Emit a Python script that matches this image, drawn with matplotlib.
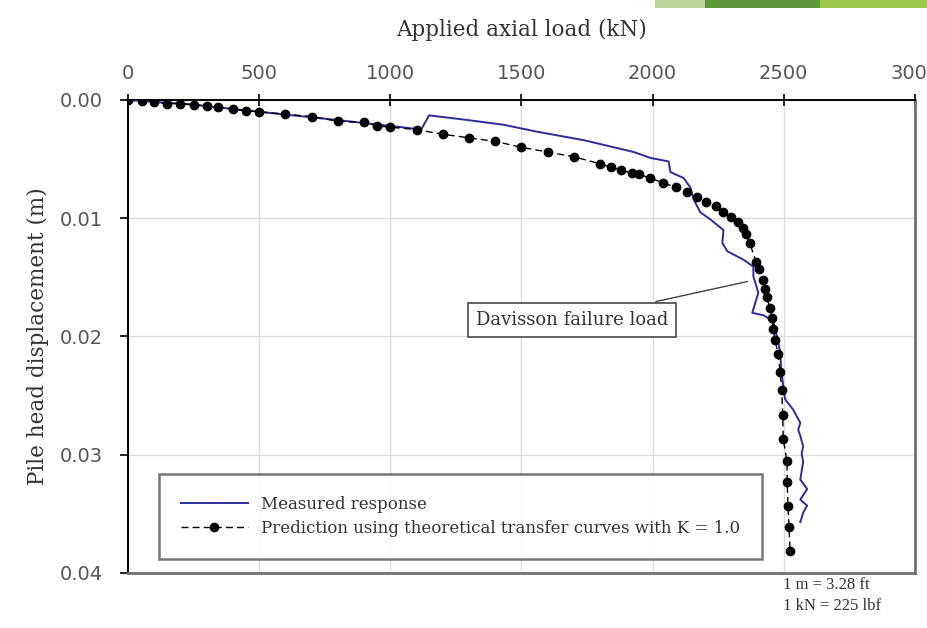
import matplotlib
matplotlib.use("Agg")
import matplotlib.pyplot as plt
from matplotlib.patches import Rectangle

# predicted curve (theoretical transfer curves, K = 1.0)
pred_load = [0, 55, 100, 150, 200, 250, 300, 345, 400, 450, 500, 600, 700, 800,
             900, 950, 1000, 1100, 1200, 1300, 1400, 1500, 1600, 1700, 1800,
             1840, 1880, 1920, 1950, 1990, 2040, 2090, 2130, 2170, 2205, 2240,
             2270, 2300, 2325, 2345, 2355, 2370, 2395, 2405, 2420, 2428, 2436,
             2447, 2455, 2460, 2467, 2478, 2486, 2492, 2496, 2498, 2512, 2513,
             2516, 2520, 2524]
pred_disp = [0.0, 0.0001, 0.0002, 0.0003, 0.0003, 0.0004, 0.0005, 0.0006,
             0.0008, 0.0009, 0.0010, 0.0012, 0.0014, 0.0018, 0.0019, 0.0022,
             0.0023, 0.0025, 0.0029, 0.0032, 0.0035, 0.0040, 0.0044, 0.0048,
             0.0054, 0.0057, 0.0059, 0.0062, 0.0063, 0.0066, 0.0070, 0.0074,
             0.0078, 0.0082, 0.0086, 0.0090, 0.0095, 0.0099, 0.0103, 0.0108,
             0.0113, 0.0121, 0.0137, 0.0143, 0.0152, 0.0160, 0.0167, 0.0176,
             0.0184, 0.0194, 0.0203, 0.0215, 0.0230, 0.0245, 0.0266, 0.0287,
             0.0305, 0.0323, 0.0343, 0.0361, 0.0381]

# measured load test response
meas_load = [0, 250, 500, 800, 1042, 1118, 1148, 1296, 1433, 1563, 1738, 1852,
             1928, 1992, 2061, 2068, 2118, 2144, 2156, 2182, 2220, 2270, 2266,
             2285, 2346, 2384, 2384, 2403, 2380, 2422, 2460, 2475, 2487, 2490,
             2498, 2505, 2536, 2563, 2555, 2563, 2574, 2568, 2574, 2563, 2589,
             2563, 2589, 2574, 2563]
meas_disp = [0.0, 0.0004, 0.0010, 0.0017, 0.0023, 0.0025, 0.0013, 0.0017,
             0.0021, 0.0027, 0.0034, 0.0040, 0.0044, 0.0049, 0.0052, 0.0061,
             0.0066, 0.0074, 0.0084, 0.0095, 0.0101, 0.0110, 0.0121, 0.0128,
             0.0135, 0.0141, 0.0149, 0.0163, 0.0180, 0.0182, 0.0187, 0.0201,
             0.0214, 0.0228, 0.0242, 0.0253, 0.0262, 0.0273, 0.0279, 0.0284,
             0.0293, 0.0299, 0.0306, 0.0321, 0.0329, 0.0338, 0.0343, 0.0349,
             0.0357]

davisson_load = 2372
davisson_disp = 0.0153

x_ticks = [0, 500, 1000, 1500, 2000, 2500, 3000]
y_ticks = [0.00, 0.01, 0.02, 0.03, 0.04]

serif = ["Liberation Serif", "DejaVu Serif"]
wide_serif = ["DejaVu Serif"]

fig = plt.figure(figsize=(9.27, 6.28), dpi=100)
ax = fig.add_axes([0.138, 0.0876, 0.849, 0.7532])

ax.plot(meas_load, meas_disp, color="#2b2b9e", lw=1.4,
        label="Measured response", zorder=3)
ax.plot(pred_load, pred_disp, color="black", lw=1.0, ls=(0, (5, 3)),
        marker="o", ms=6, label="Prediction using theoretical transfer curves with K = 1.0",
        zorder=4)

ax.set_xlim(0, 3000)
ax.set_ylim(0.04, 0.0)
ax.set_xticks(x_ticks)
ax.set_yticks(y_ticks)
ax.set_yticklabels([f"{v:.2f}" for v in y_ticks])
ax.xaxis.tick_top()
ax.xaxis.set_label_position("top")
ax.tick_params(axis="x", direction="inout", length=9, width=1.2, pad=8,
               labelsize=14, labelcolor="#555555")
ax.tick_params(axis="y", direction="out", length=6, width=1.2, pad=12,
               labelsize=14, labelcolor="#555555")

ax.grid(True, color="#dcdcdc", lw=1.0)
ax.set_axisbelow(True)
ax.spines["top"].set_linewidth(1.4)
ax.spines["left"].set_linewidth(1.4)
ax.spines["right"].set_color("#707070")
ax.spines["right"].set_linewidth(2)
ax.spines["bottom"].set_color("#707070")
ax.spines["bottom"].set_linewidth(2)

ax.set_xlabel("Applied axial load (kN)", family=wide_serif, fontsize=15.5,
              color="#333333", labelpad=20)
ax.set_ylabel("Pile head displacement (m)", family=wide_serif, fontsize=15.5,
              color="#333333", labelpad=8)

leg = ax.legend(loc="lower left", bbox_to_anchor=(0.04, 0.03), borderaxespad=0,
                prop={"family": wide_serif, "size": 12}, frameon=True,
                fancybox=False, handlelength=4.0, labelspacing=0.45,
                borderpad=1.3)
leg.get_frame().set_edgecolor("#555555")
leg.get_frame().set_linewidth(1.8)
for t in leg.get_texts():
    t.set_color("#333333")

ax.annotate("Davisson failure load", xy=(davisson_load, davisson_disp),
            xytext=(1693, 0.0186), ha="center", va="center",
            family=wide_serif, fontsize=13, color="#333333",
            bbox=dict(boxstyle="square,pad=0.45", fc="white", ec="#555555", lw=1.3),
            arrowprops=dict(arrowstyle="-", color="#444444", lw=1.0))

fig.text(0.845, 0.0685, "1 m = 3.28 ft", family=serif, fontsize=12,
         color="#333333", va="center")
fig.text(0.845, 0.035, "1 kN = 225 lbf", family=serif, fontsize=12,
         color="#333333", va="center")

# slide decoration at top right
fig.patches.append(Rectangle((655 / 927, 0.988), 50 / 927, 0.012,
                             transform=fig.transFigure, fc="#bcd79a", ec="none"))
fig.patches.append(Rectangle((705 / 927, 0.988), 115 / 927, 0.012,
                             transform=fig.transFigure, fc="#5e9a3c", ec="none"))
fig.patches.append(Rectangle((820 / 927, 0.988), 107 / 927, 0.012,
                             transform=fig.transFigure, fc="#9cc84c", ec="none"))

fig.savefig("out.png", dpi=100)
